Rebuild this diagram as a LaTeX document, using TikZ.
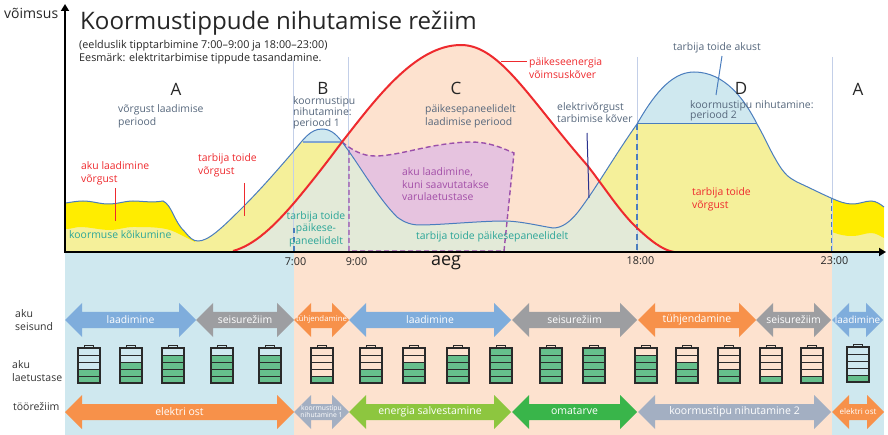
\documentclass[tikz,border=0pt]{standalone}
\usepackage{fontspec}
\setmainfont{Open Sans}
\usetikzlibrary{arrows.meta}
\definecolor{bandblue}{HTML}{CFE8EF}
\definecolor{bandorange}{HTML}{FDE2CF}
\definecolor{lyellow}{HTML}{F5F09A}
\definecolor{byellow}{HTML}{FFED00}
\definecolor{lgreen}{HTML}{E3EAD8}
\definecolor{lpurple}{HTML}{E6C3DF}
\definecolor{dpurple}{HTML}{9B50AA}
\definecolor{cblue}{HTML}{4A7DBE}
\definecolor{vline}{HTML}{C3CFE8}
\definecolor{cred}{HTML}{EE2A2E}
\definecolor{gtext}{HTML}{56677C}
\definecolor{tealtext}{HTML}{2BA598}
\definecolor{ptext}{HTML}{A34FA8}
\definecolor{arblue}{HTML}{7FADDC}
\definecolor{argray}{HTML}{9D9EA1}
\definecolor{arorange}{HTML}{F7914A}
\definecolor{arslate}{HTML}{A3AFC2}
\definecolor{argreen}{HTML}{8DC63F}
\definecolor{ardgreen}{HTML}{39B54A}
\definecolor{batgreen}{HTML}{66BF8C}
\definecolor{batline}{HTML}{2A2A2A}
\newcommand{\fs}[1]{\fontsize{#1}{#1}\selectfont}
\tikzset{
 x=1pt,y=-1pt,
 lbl/.style={inner sep=0pt,anchor=west,align=left,font=\fontsize{10.4}{12.6}\selectfont},
 greylbl/.style={lbl,text=gtext},
 redlbl/.style={lbl,text=cred},
 teallbl/.style={lbl,text=tealtext},
 letter/.style={inner sep=0pt,font=\fs{17},text=black!85},
 tick/.style={inner sep=0pt,font=\fs{10.8},text=black!85},
 rowlbl/.style={inner sep=0pt,anchor=west,align=left,font=\fontsize{10.5}{13}\selectfont,text=black!80},
 artext/.style={inner sep=0pt,text=white,align=center,font=\fs{#1}},
 vthin/.style={vline,line width=.9pt},
 marker/.style={line width=1pt},
}
\def\cons{(66,203) .. controls (72,202) and (78,201) .. (83,201) .. controls (92,201) and (100,204) .. (108,204) .. controls (118,204) and (125,201) .. (133,201) .. controls (142,201) and (152,203) .. (163,201) .. controls (172,205) and (174,222) .. (185,232) .. controls (190,238) and (193,241) .. (198,241) .. controls (208,241) and (220,230) .. (243,207) .. controls (262,188) and (280,167) .. (293,152) .. controls (303,140) and (310,129) .. (322,129) .. controls (332,129) and (338,136) .. (345,146) .. controls (360,166) and (378,198) .. (397,217) .. controls (405,223) and (412,225) .. (420,225) .. controls (440,225) and (480,221) .. (504,221) .. controls (520,221) and (540,226) .. (553,228) .. controls (562,228) and (570,222) .. (578,212) .. controls (595,190) and (615,155) .. (637,124) .. controls (652,98) and (670,72) .. (694,72) .. controls (725,72) and (745,100) .. (757,124) .. controls (765,138) and (770,150) .. (776,160) .. controls (785,176) and (790,178) .. (797,182) .. controls (810,188) and (822,194) .. (831,198) .. controls (840,202) and (846,204) .. (852,204) .. controls (860,204) and (865,201) .. (871,201) .. controls (876,201) and (880,204) .. (884,207)}
\def\sun{(233,251) .. controls (255,245) and (275,225) .. (294,203) .. controls (315,178) and (330,158) .. (342,142) .. controls (375,100) and (415,45) .. (461,45) .. controls (500,45) and (530,100) .. (587,165) .. controls (605,188) and (620,212) .. (637,228) .. controls (650,240) and (662,250) .. (674,252)}
\newcommand{\dbl}[7]{%
 \fill[#5] (#2,#4) -- (#2+17,#4-17) -- (#2+17,#4-8) -- (#3-17,#4-8) -- (#3-17,#4-17) -- (#3,#4) -- (#3-17,#4+17) -- (#3-17,#4+8) -- (#2+17,#4+8) -- (#2+17,#4+17) -- cycle;
 \node[artext=#6] (#1) at ({(#2+#3)/2},#4-0.5) {#7};
}
\newcommand{\bat}[3]{%
 \fill[batgreen] (#1-11,#2+35-7*#3) rectangle (#1+11,#2+35);
 \draw[batline,line width=1.2pt] (#1-11,#2) rectangle (#1+11,#2+35);
 \draw[batline,line width=1pt] (#1-4.3,#2) -- (#1-4.3,#2-3) -- (#1+4.3,#2-3) -- (#1+4.3,#2);
 \foreach \k in {1,2,3,4} {\draw[batline,line width=1pt] (#1-11,#2+7*\k) -- (#1+11,#2+7*\k);}
}
\begin{document}
\begin{tikzpicture}
\useasboundingbox (0,0) rectangle (888,435);
\fill[bandblue] (65,253) rectangle (294,435);
\fill[bandorange] (294,253) rectangle (832,435);
\fill[bandblue] (832,253) rectangle (884,435);
\fill[lyellow] \cons -- (884,252) -- (66,252) -- cycle;
\begin{scope}
 \clip \cons -- (884,252) -- (66,252) -- cycle;
 \fill[byellow] (66,190) -- (66,229) .. controls (72,229) and (75,227) .. (80,227) .. controls (90,227) and (100,230) .. (110,230) .. controls (118,230) and (125,227) .. (133,227) .. controls (150,227) and (165,227) .. (175,232) -- (195,242) -- (200,190) -- cycle;
 \fill[byellow] (832,190) -- (832,232) .. controls (840,235) and (845,236) .. (852,236) .. controls (860,236) and (865,233) .. (871,233) .. controls (876,233) and (880,236) .. (884,238) -- (884,190) -- cycle;
\end{scope}
\fill[bandorange] \sun -- cycle;
\begin{scope}
 \clip \sun -- cycle;
 \fill[lgreen] \cons -- (884,252) -- (66,252) -- cycle;
\end{scope}
\begin{scope}
 \clip \cons -- (884,0) -- (66,0) -- cycle;
 \fill[lpurple] (342,142) .. controls (352,150) and (362,156) .. (375,156) .. controls (400,156) and (430,143) .. (470,142) .. controls (490,142) and (502,148) .. (514,153) -- (504,251) -- (349,251) -- cycle;
\end{scope}
\begin{scope}
 \clip \cons -- (884,252) -- (66,252) -- cycle;
 \fill[bandblue] (303,100) rectangle (342,142);
 \fill[bandblue] (637,60) rectangle (757,124);
\end{scope}
\draw[vthin] (293,60) -- (293,252);
\draw[vthin] (348,57) -- (348,252);
\draw[vthin] (637,57) -- (637,252);
\draw[vthin] (832,57) -- (832,252);
\draw[cblue!70,line width=1.2pt] (303,142) -- (342,142);
\draw[cblue,line width=1pt] (637,124) -- (757,124);
\draw[cblue,line width=1.5pt,dash pattern=on 5pt off 4pt] (294,228) -- (294,251);
\draw[cblue,line width=1.6pt,dash pattern=on 6pt off 4pt] (637,124) -- (637,252);
\draw[cblue,line width=1pt,dash pattern=on 5pt off 3pt] (831,198) -- (831,252);
\draw[dpurple,line width=1.4pt,dash pattern=on 5pt off 3pt] (349,150) -- (349,251) -- (504,251) -- (514,153) .. controls (502,148) and (490,142) .. (470,142) .. controls (430,143) and (400,156) .. (375,156) .. controls (362,156) and (352,150) .. (342,142);
\draw[cblue,line width=1pt] \cons;
\draw[cred,line width=2pt] \sun;
\draw[cred,marker] (115,188) -- (115,221);
\draw[cred,marker] (244,183) -- (244,216);
\draw[cred,marker] (501,62) -- (527,62);
\draw[cblue,marker] (722,56) -- (716,95);
\draw[gtext!60!blue!80!black,marker] (587,133) -- (589,198);
\draw[black,line width=1.8pt,-{Triangle[length=7pt,width=8pt]}] (65,253) -- (65,4);
\draw[black,line width=1.8pt,-{Triangle[length=7pt,width=8pt]}] (64,252) -- (886,252);
\node[inner sep=0pt,anchor=west,font=\fs{14},text=black!85] (ylab) at (4,13) {võimsus};
\node[inner sep=0pt,anchor=west,font=\fs{24.1},text=black!85] (title) at (80,23) {Koormustippude nihutamise režiim};
\node[inner sep=0pt,anchor=west,align=left,font=\fontsize{10.8}{13.5}\selectfont,text=black!85] (sub) at (79,52) {(eelduslik tipptarbimine 7:00–9:00 ja 18:00–23:00)\\Eesmärk: elektritarbimise tippude tasandamine.};
\node[letter] (lA) at (176,89) {A};
\node[letter] (lB) at (323,88) {B};
\node[letter] (lC) at (456,88) {C};
\node[letter] (lD) at (741,88) {D};
\node[letter] (lA2) at (858,89) {A};
\node[greylbl] (t1) at (118,116.5) {võrgust laadimise\\periood};
\node[greylbl,font=\fontsize{10.4}{11}\selectfont] (t2) at (293,113) {koormustipu\\nihutamine:\\periood 1};
\node[greylbl] (t3) at (425,116.5) {päikesepaneelidelt\\laadimise periood};
\node[greylbl] (t4) at (557,112.5) {elektrivõrgust\\tarbimise kõver};
\node[greylbl] (t5) at (673,48) {tarbija toide akust};
\node[greylbl,font=\fontsize{10.4}{10.5}\selectfont] (t6) at (690,111) {koormustipu nihutamine:\\periood 2};
\node[redlbl] (r1) at (529,68) {päikeseenergia\\võimsuskõver};
\node[redlbl] (r2) at (81,173.5) {aku laadimine\\võrgust};
\node[redlbl] (r3) at (198,165.5) {tarbija toide\\võrgust};
\node[redlbl] (r4) at (692,199.5) {tarbija toide\\võrgust};
\node[lbl,text=ptext] (p1) at (402,184.5) {aku laadimine,\\kuni saavutatakse\\varulaetustase};
\node[teallbl] (g1) at (69,235) {koormuse kõikumine};
\node[teallbl,align=center,anchor=center] (g2) at (316,229) {tarbija toide\\päikese-\\paneelidelt};
\node[teallbl] (g3) at (416,237) {tarbija toide päikesepaneelidelt};
\node[tick] (h7) at (295.5,262) {7:00};
\node[tick] (h9) at (356.5,262) {9:00};
\node[tick] (h18) at (640.5,260.5) {18:00};
\node[tick] (h23) at (834.5,260.5) {23:00};
\node[inner sep=0pt,font=\fs{18},text=black!90] (aeg) at (446,263) {aeg};
\node[rowlbl] (k1) at (15,320) {aku\\seisund};
\node[rowlbl] (k2) at (12,371) {aku\\laetustase};
\node[rowlbl] (k3) at (13,406.5) {töörežiim};
\dbl{a1}{65}{196}{320}{arblue}{10.4}{laadimine}
\dbl{a2}{196}{294}{320}{argray}{10.4}{seisurežiim}
\dbl{a3}{294}{349}{320}{arorange}{7.8}{tühjendamine}
\dbl{a4}{349}{511}{320}{arblue}{10.4}{laadimine}
\dbl{a5}{512}{637}{320}{argray}{10.4}{seisurežiim}
\dbl{a6}{638}{756}{320}{arorange}{10.5}{tühjendamine}
\dbl{a7}{756}{831}{320}{argray}{10.4}{seisurežiim}
\dbl{a8}{832}{883}{320}{arblue}{9.9}{laadimine}
\dbl{b1}{65}{294}{412}{arorange}{10.5}{elektri ost}
\dbl{b2}{294}{349}{412}{arslate}{6.8}{koormustipu\\[1pt]nihutamine 1}
\dbl{b3}{349}{511}{412}{argreen}{10.5}{energia salvestamine}
\dbl{b4}{512}{637}{412}{ardgreen}{10.5}{omatarve}
\dbl{b5}{638}{831}{412}{arslate}{10.5}{koormustipu nihutamine 2}
\dbl{b6}{832}{884}{412}{arorange}{8}{elektri ost}
\bat{89}{348}{2}
\bat{131}{348}{3}
\bat{173}{348}{4}
\bat{222}{348}{4}
\bat{270}{348}{4}
\bat{322}{348}{1}
\bat{371}{348}{2}
\bat{414}{348}{3}
\bat{458}{348}{4}
\bat{501}{348}{5}
\bat{551}{348}{5}
\bat{594}{348}{5}
\bat{646}{348}{4}
\bat{687}{348}{3}
\bat{729}{348}{2}
\bat{771}{348}{1}
\bat{812}{348}{1}
\bat{858}{347}{1}
\end{tikzpicture}
\end{document}
